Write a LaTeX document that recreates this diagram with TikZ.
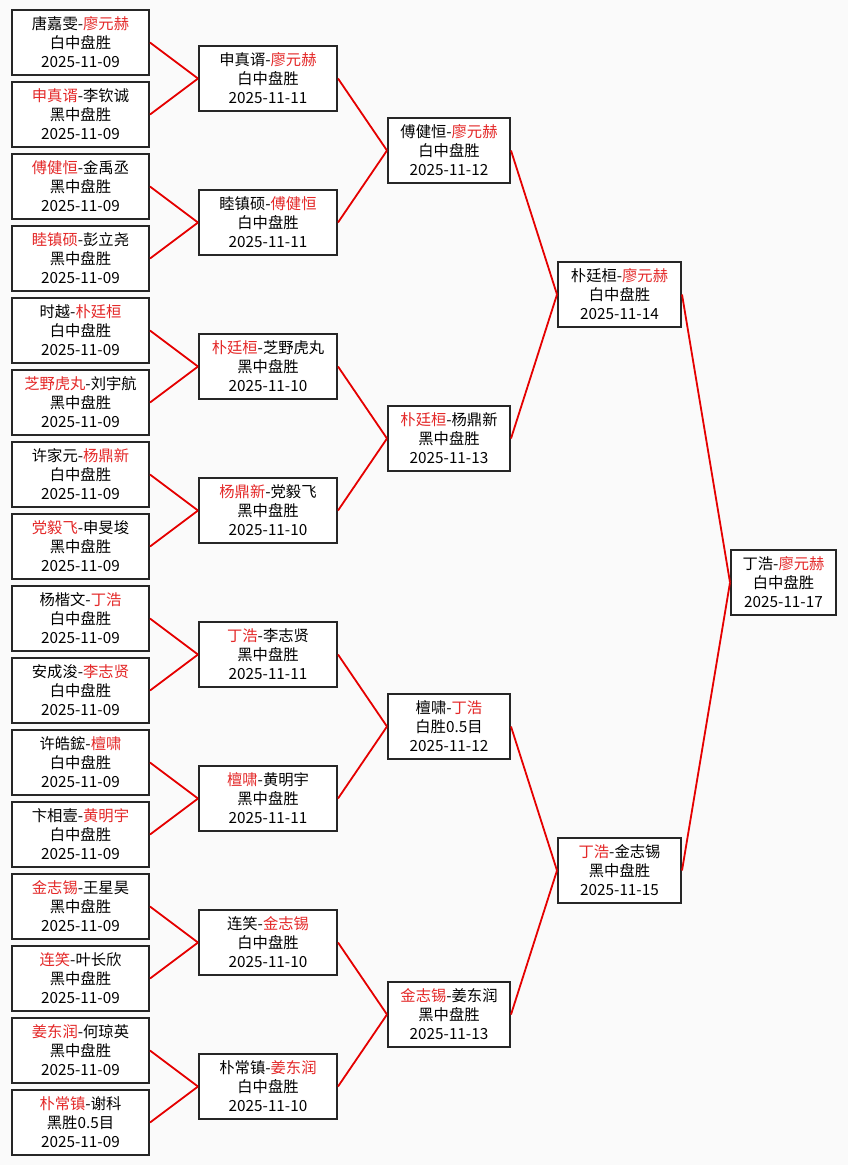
\documentclass[tikz,border=0pt]{standalone}
\usepackage{fontspec}
\setmainfont{Noto Sans CJK SC}
\usepackage{xcolor}
\usepackage{tikz}
\usetikzlibrary{positioning}

\definecolor{winred}{RGB}{228,40,40}
\definecolor{paper}{RGB}{250,250,250}
\newcommand{\wn}[1]{\textcolor{winred}{#1}}

\begin{document}
\begin{tikzpicture}[
  x=1pt,
  y=-1pt,
  font=\fontsize{15.3}{19}\selectfont,
  game/.style={draw=black!85, line width=2pt, fill=white, align=center,
    minimum height=65pt, inner sep=0pt},
  r1/.style={game, minimum width=137pt},
  r2/.style={game, minimum width=138pt},
  r3/.style={game, minimum width=122pt},
  r4/.style={game, minimum width=123pt},
  fin/.style={game, minimum width=105pt},
  link/.style={draw=red!90!black, line width=1.8pt}
]

\fill[paper] (0,0) rectangle (848,1165);
\useasboundingbox (0,0) rectangle (848,1165);

% first round
\node[r1] (a1) at (80.5,42.5) {唐嘉雯-\wn{廖元赫}\\白中盘胜\\2025-11-09};
\node[r1] (a2) at (80.5,114.5) {\wn{申真谞}-李钦诚\\黑中盘胜\\2025-11-09};
\node[r1] (a3) at (80.5,186.5) {\wn{傅健恒}-金禹丞\\黑中盘胜\\2025-11-09};
\node[r1] (a4) at (80.5,258.5) {\wn{睦镇硕}-彭立尧\\黑中盘胜\\2025-11-09};
\node[r1] (a5) at (80.5,330.5) {时越-\wn{朴廷桓}\\白中盘胜\\2025-11-09};
\node[r1] (a6) at (80.5,402.5) {\wn{芝野虎丸}-刘宇航\\黑中盘胜\\2025-11-09};
\node[r1] (a7) at (80.5,474.5) {许家元-\wn{杨鼎新}\\白中盘胜\\2025-11-09};
\node[r1] (a8) at (80.5,546.5) {\wn{党毅飞}-申旻埈\\黑中盘胜\\2025-11-09};
\node[r1] (a9) at (80.5,618.5) {杨楷文-\wn{丁浩}\\白中盘胜\\2025-11-09};
\node[r1] (a10) at (80.5,690.5) {安成浚-\wn{李志贤}\\白中盘胜\\2025-11-09};
\node[r1] (a11) at (80.5,762.5) {许皓鋐-\wn{檀啸}\\白中盘胜\\2025-11-09};
\node[r1] (a12) at (80.5,834.5) {卞相壹-\wn{黄明宇}\\白中盘胜\\2025-11-09};
\node[r1] (a13) at (80.5,906.5) {\wn{金志锡}-王星昊\\黑中盘胜\\2025-11-09};
\node[r1] (a14) at (80.5,978.5) {\wn{连笑}-叶长欣\\黑中盘胜\\2025-11-09};
\node[r1] (a15) at (80.5,1050.5) {\wn{姜东润}-何琼英\\黑中盘胜\\2025-11-09};
\node[r1] (a16) at (80.5,1122.5) {\wn{朴常镇}-谢科\\黑胜0.5目\\2025-11-09};

% second round
\node[r2] (b1) at (268,78.5) {申真谞-\wn{廖元赫}\\白中盘胜\\2025-11-11};
\node[r2] (b2) at (268,222.5) {睦镇硕-\wn{傅健恒}\\白中盘胜\\2025-11-11};
\node[r2] (b3) at (268,366.5) {\wn{朴廷桓}-芝野虎丸\\黑中盘胜\\2025-11-10};
\node[r2] (b4) at (268,510.5) {\wn{杨鼎新}-党毅飞\\黑中盘胜\\2025-11-10};
\node[r2] (b5) at (268,654.5) {\wn{丁浩}-李志贤\\黑中盘胜\\2025-11-11};
\node[r2] (b6) at (268,798.5) {\wn{檀啸}-黄明宇\\黑中盘胜\\2025-11-11};
\node[r2] (b7) at (268,942.5) {连笑-\wn{金志锡}\\白中盘胜\\2025-11-10};
\node[r2] (b8) at (268,1086.5) {朴常镇-\wn{姜东润}\\白中盘胜\\2025-11-10};

% quarter finals
\node[r3] (c1) at (449,150.5) {傅健恒-\wn{廖元赫}\\白中盘胜\\2025-11-12};
\node[r3] (c2) at (449,438.5) {\wn{朴廷桓}-杨鼎新\\黑中盘胜\\2025-11-13};
\node[r3] (c3) at (449,726.5) {檀啸-\wn{丁浩}\\白胜0.5目\\2025-11-12};
\node[r3] (c4) at (449,1014.5) {\wn{金志锡}-姜东润\\黑中盘胜\\2025-11-13};

% semi finals
\node[r4] (d1) at (619.5,294.5) {朴廷桓-\wn{廖元赫}\\白中盘胜\\2025-11-14};
\node[r4] (d2) at (619.5,870.5) {\wn{丁浩}-金志锡\\黑中盘胜\\2025-11-15};

% final
\node[fin] (e1) at (783.5,582.5) {丁浩-\wn{廖元赫}\\白中盘胜\\2025-11-17};

\draw[link] (a1.east) -- (b1.west);
\draw[link] (a2.east) -- (b1.west);
\draw[link] (a3.east) -- (b2.west);
\draw[link] (a4.east) -- (b2.west);
\draw[link] (a5.east) -- (b3.west);
\draw[link] (a6.east) -- (b3.west);
\draw[link] (a7.east) -- (b4.west);
\draw[link] (a8.east) -- (b4.west);
\draw[link] (a9.east) -- (b5.west);
\draw[link] (a10.east) -- (b5.west);
\draw[link] (a11.east) -- (b6.west);
\draw[link] (a12.east) -- (b6.west);
\draw[link] (a13.east) -- (b7.west);
\draw[link] (a14.east) -- (b7.west);
\draw[link] (a15.east) -- (b8.west);
\draw[link] (a16.east) -- (b8.west);

\draw[link] (b1.east) -- (c1.west);
\draw[link] (b2.east) -- (c1.west);
\draw[link] (b3.east) -- (c2.west);
\draw[link] (b4.east) -- (c2.west);
\draw[link] (b5.east) -- (c3.west);
\draw[link] (b6.east) -- (c3.west);
\draw[link] (b7.east) -- (c4.west);
\draw[link] (b8.east) -- (c4.west);

\draw[link] (c1.east) -- (d1.west);
\draw[link] (c2.east) -- (d1.west);
\draw[link] (c3.east) -- (d2.west);
\draw[link] (c4.east) -- (d2.west);

\draw[link] (d1.east) -- (e1.west);
\draw[link] (d2.east) -- (e1.west);

\end{tikzpicture}
\end{document}
